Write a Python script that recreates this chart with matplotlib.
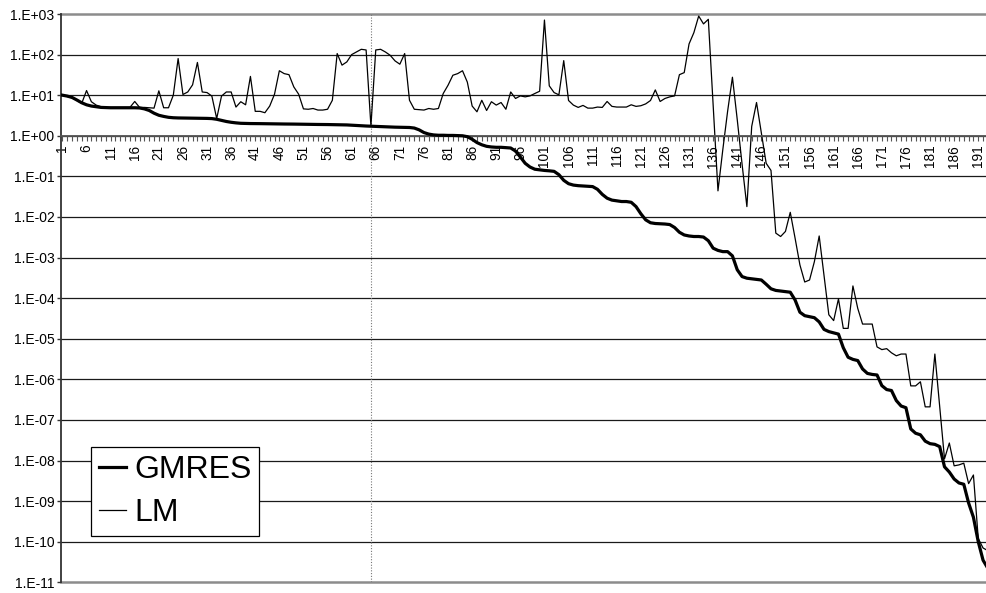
import matplotlib
matplotlib.use("Agg")
import matplotlib.pyplot as plt
from matplotlib.ticker import FixedLocator, FuncFormatter, NullFormatter
import numpy as np

plt.rcParams['font.family'] = ['Liberation Sans', 'DejaVu Sans']

# iteration index and residual norms for both solvers
iterations = np.arange(1, 194)

gmres = [
    10, 9.5, 8.8, 7.6, 6.5, 5.8, 5.4, 5.2, 5.0, 4.95,
    4.9, 4.9, 4.9, 4.9, 4.9, 4.9, 4.85, 4.6, 4.2, 3.6,
    3.2, 3.0, 2.85, 2.78, 2.75, 2.74, 2.73, 2.72, 2.71, 2.7,
    2.68, 2.65, 2.55, 2.4, 2.25, 2.15, 2.08, 2.03, 2.01, 2.0,
    2.0, 1.99, 1.98, 1.98, 1.97, 1.96, 1.95, 1.95, 1.94, 1.93,
    1.92, 1.92, 1.91, 1.9, 1.9, 1.89, 1.88, 1.87, 1.86, 1.85,
    1.82, 1.8, 1.77, 1.74, 1.72, 1.7, 1.68, 1.66, 1.65, 1.63,
    1.62, 1.61, 1.6, 1.55, 1.4, 1.2, 1.1, 1.05, 1.03, 1.03,
    1.02, 1.02, 1.01, 1.0, 0.95, 0.82, 0.68, 0.6, 0.55, 0.53,
    0.52, 0.52, 0.51, 0.5, 0.42, 0.3, 0.21, 0.17, 0.15, 0.145,
    0.14, 0.137, 0.133, 0.11, 0.08, 0.066, 0.061, 0.059, 0.058, 0.057,
    0.056, 0.048, 0.036, 0.029, 0.026, 0.025, 0.024, 0.024, 0.023, 0.018,
    0.012, 0.0085, 0.0072, 0.0069, 0.0068, 0.0067, 0.0065, 0.0055, 0.0042, 0.0036,
    0.0034, 0.0033, 0.0033, 0.0032, 0.0026, 0.0017, 0.0015, 0.0014, 0.0014, 0.0011,
    5e-4, 3.4e-4, 3.1e-4, 3e-4, 2.9e-4, 2.8e-4, 2.2e-4, 1.7e-4, 1.55e-4, 1.5e-4,
    1.45e-4, 1.4e-4, 9e-5, 4.5e-5, 3.7e-5, 3.5e-5, 3.3e-5, 2.6e-5, 1.7e-5, 1.5e-5,
    1.4e-5, 1.3e-5, 6e-6, 3.5e-6, 3.1e-6, 2.9e-6, 1.8e-6, 1.4e-6, 1.32e-6, 1.28e-6,
    7e-7, 5.6e-7, 5.3e-7, 3e-7, 2.2e-7, 2e-7, 6e-8, 4.7e-8, 4.3e-8, 3e-8,
    2.6e-8, 2.5e-8, 2.2e-8, 7e-9, 5.2e-9, 3.5e-9, 2.8e-9, 2.6e-9, 9e-10, 4e-10,
    1e-10, 3.5e-11, 2.2e-11,
]

lm = [
    10, 9.3, 8.6, 7.4, 6.3, 13, 6.9, 5.7, 5.2, 5.0,
    5.0, 5.0, 5.0, 5.0, 5.0, 7.0, 5.0, 5.0, 4.9, 4.8,
    12.8, 4.9, 4.9, 10, 80, 10.4, 12, 18, 64, 12,
    11.6, 9.5, 2.66, 9.5, 12, 12, 5.1, 6.9, 5.8, 29,
    4.0, 4.0, 3.7, 5.4, 10.6, 40, 34, 32, 16, 10.6,
    4.6, 4.5, 4.7, 4.3, 4.3, 4.5, 7.5, 106, 55, 66,
    100, 116, 135, 130, 1.73, 130, 135, 116, 96, 70,
    58, 106, 7.5, 4.5, 4.4, 4.3, 4.7, 4.5, 4.7, 11,
    17.6, 31, 34, 40, 21, 5.4, 3.9, 7.5, 4.2, 6.9,
    5.7, 6.6, 4.5, 12, 8.3, 9.6, 9.1, 9.6, 11, 12.5,
    710, 17, 11.6, 10.2, 71, 7.4, 5.7, 5.0, 5.6, 4.8,
    4.8, 5.1, 5.0, 7.0, 5.3, 5.1, 5.1, 5.1, 5.8, 5.3,
    5.5, 6.1, 7.4, 13.5, 7.0, 8.3, 9.1, 9.6, 32, 36,
    183, 347, 890, 570, 740, 5.8, 0.044, 0.45, 4.0, 27.7,
    2.5, 0.2, 0.018, 1.7, 6.6, 1.16, 0.21, 0.14, 0.004, 0.0033,
    0.0044, 0.013, 0.003, 6.6e-4, 2.5e-4, 2.8e-4, 7.9e-4, 3.4e-3, 3.7e-4, 3.9e-5,
    2.8e-5, 9.6e-5, 1.8e-5, 1.8e-5, 2.0e-4, 5.6e-5, 2.3e-5, 2.3e-5, 2.3e-5, 6.3e-6,
    5.4e-6, 5.7e-6, 4.5e-6, 3.8e-6, 4.2e-6, 4.2e-6, 6.9e-7, 6.9e-7, 8.7e-7, 2.1e-7,
    2.1e-7, 4.2e-6, 2.1e-7, 1.1e-8, 2.7e-8, 7.4e-9, 7.8e-9, 8.6e-9, 2.7e-9, 4.4e-9,
    1.2e-10, 7e-11, 6e-11,
]

decades = np.arange(-11, 4)
label_every = 5
marker_iter = 65

fig = plt.figure(figsize=(9.86, 5.93), dpi=100)
ax = fig.add_axes([61 / 986, 1 - 582.3 / 593, 1 - 61 / 986, (582.3 - 14) / 593])

ax.set_yscale('log')
ax.set_ylim(10.0 ** decades[0], 10.0 ** decades[-1])
# the last category runs just past the right edge of the plot
ax.set_xlim(0.7, 0.7 + 925 / 4.82)

# horizontal grid, one line per decade
for d in decades[1:-1]:
    ax.axhline(10.0 ** d, color='#1a1a1a', lw=0.9, zorder=1)
for d in (decades[0], decades[-1]):
    ax.axhline(10.0 ** d, color='#8c8c8c', lw=1.8, zorder=1, clip_on=False)

ax.axvline(marker_iter, color='#777777', lw=0.8, ls=(0, (1, 1.5)), zorder=1)

ax.plot(iterations, gmres, color='black', lw=2.3, label='GMRES', zorder=3,
        solid_joinstyle='round')
ax.plot(iterations, lm, color='black', lw=0.9, label='LM', zorder=2)

# y axis: decade labels in 1.E+03 style
ax.yaxis.set_major_locator(FixedLocator(10.0 ** decades))
ax.yaxis.set_minor_formatter(NullFormatter())
ax.yaxis.set_minor_locator(FixedLocator([]))
ax.yaxis.set_major_formatter(FuncFormatter(
    lambda v, pos: '1.E%+03d' % int(round(np.log10(v)))))
ax.tick_params(axis='y', which='major', direction='out', length=3.2, width=1.0,
               pad=1.5, labelsize=10, color='#333333')

# x axis crosses at 1.0
ax.spines['bottom'].set_position(('data', 1.0))
ax.spines['bottom'].set_color('#555555')
ax.spines['bottom'].set_linewidth(1.3)
ax.spines['left'].set_color('#333333')
ax.spines['left'].set_linewidth(1.3)
ax.spines['top'].set_visible(False)
ax.spines['right'].set_visible(False)

ax.xaxis.set_major_locator(FixedLocator(iterations[::label_every]))
ax.xaxis.set_minor_locator(FixedLocator(iterations))
ax.set_xticklabels([str(i) for i in iterations[::label_every]],
                   rotation=90, fontsize=9.8)
ax.tick_params(axis='x', which='both', direction='out', length=3.5, width=0.8,
               color='#555555', pad=3)

leg = ax.legend(loc='upper left', bbox_to_anchor=((91 - 61) / 925, (582.3 - 447) / 568.3),
                borderaxespad=0, fontsize=23, frameon=True, fancybox=False,
                handlelength=0.85, handletextpad=0.25, borderpad=0.25,
                labelspacing=0.4)
leg.get_frame().set_edgecolor('black')
leg.get_frame().set_linewidth(0.9)
leg.get_frame().set_facecolor('white')
leg.get_frame().set_alpha(1)
leg.set_zorder(5)

fig.savefig('out.png', dpi=100)
